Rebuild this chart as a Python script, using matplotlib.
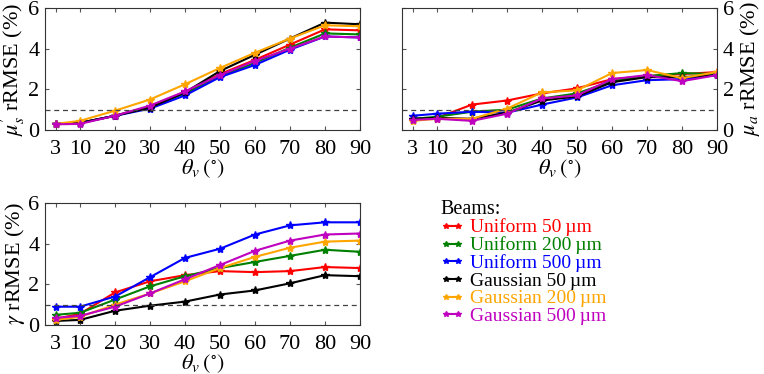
import numpy as np
import matplotlib.pyplot as plt

plt.rcParams["font.family"] = ["Liberation Serif", "DejaVu Serif"]
plt.rcParams["mathtext.fontset"] = "stix"

# viewing angles (deg)
theta = [3, 10, 20, 30, 40, 50, 60, 70, 80, 90]

labels = ["Uniform 50\u2009\u00b5m", "Uniform 200\u2009\u00b5m", "Uniform 500\u2009\u00b5m",
          "Gaussian 50\u2009\u00b5m", "Gaussian 200\u2009\u00b5m", "Gaussian 500\u2009\u00b5m"]
colors = ["red", "green", "blue", "black", "orange", "m"]

# mu_s' rRMSE (%)
mus_u50 = [0.28, 0.35, 0.70, 1.15, 1.85, 2.75, 3.45, 4.20, 4.95, 4.90]
mus_u200 = [0.28, 0.35, 0.70, 1.15, 1.80, 2.65, 3.30, 4.05, 4.75, 4.70]
mus_u500 = [0.30, 0.35, 0.70, 1.05, 1.70, 2.60, 3.20, 3.95, 4.60, 4.55]
mus_g50 = [0.30, 0.35, 0.70, 1.10, 1.85, 2.90, 3.70, 4.50, 5.28, 5.20]
mus_g200 = [0.30, 0.45, 0.95, 1.50, 2.25, 3.05, 3.80, 4.50, 5.15, 5.10]
mus_g500 = [0.28, 0.30, 0.70, 1.20, 1.90, 2.70, 3.40, 4.00, 4.60, 4.55]

# mu_a rRMSE (%)
mua_u50 = [0.50, 0.60, 1.25, 1.45, 1.80, 2.05, 2.50, 2.65, 2.75, 2.85]
mua_u200 = [0.55, 0.65, 0.90, 1.00, 1.55, 1.80, 2.40, 2.65, 2.80, 2.75]
mua_u500 = [0.70, 0.80, 0.90, 0.85, 1.25, 1.60, 2.20, 2.45, 2.50, 2.70]
mua_g50 = [0.55, 0.60, 0.55, 0.85, 1.45, 1.65, 2.35, 2.60, 2.60, 2.70]
mua_g200 = [0.45, 0.55, 0.55, 1.05, 1.85, 1.95, 2.80, 2.95, 2.55, 2.85]
mua_g500 = [0.50, 0.55, 0.45, 0.80, 1.55, 1.70, 2.50, 2.70, 2.40, 2.70]

# gamma rRMSE (%)
gam_u50 = [0.30, 0.55, 1.60, 2.15, 2.45, 2.65, 2.60, 2.65, 2.85, 2.80]
gam_u200 = [0.50, 0.60, 1.25, 1.90, 2.40, 2.80, 3.10, 3.40, 3.70, 3.60]
gam_u500 = [0.90, 0.90, 1.40, 2.35, 3.30, 3.75, 4.45, 4.90, 5.05, 5.05]
gam_g50 = [0.20, 0.25, 0.70, 0.95, 1.15, 1.50, 1.70, 2.05, 2.45, 2.40]
gam_g200 = [0.25, 0.40, 1.00, 1.55, 2.15, 2.80, 3.35, 3.80, 4.10, 4.15]
gam_g500 = [0.35, 0.45, 0.90, 1.55, 2.25, 2.95, 3.65, 4.15, 4.45, 4.50]

mus = [mus_u50, mus_u200, mus_u500, mus_g50, mus_g200, mus_g500]
mua = [mua_u50, mua_u200, mua_u500, mua_g50, mua_g200, mua_g500]
gam = [gam_u50, gam_u200, gam_u500, gam_g50, gam_g200, gam_g500]

fig = plt.figure(figsize=(7.64, 3.74), dpi=100)
W, H = 764, 374
ax1 = fig.add_axes([45 / W, 1 - 130 / H, 315 / W, 122 / H])
ax2 = fig.add_axes([402 / W, 1 - 130 / H, 315 / W, 122 / H])
ax3 = fig.add_axes([45 / W, 1 - 325 / H, 315 / W, 122 / H])


def style(ax, data, ylabel, right=False):
    lines = []
    for d, c, lab in zip(data, colors, labels):
        (ln,) = ax.plot(theta, d, color=c, marker="*", markersize=6, lw=1.5, label=lab)
        lines.append(ln)
    ax.axhline(1, color="#444444", ls=(0, (4, 3)), lw=0.9)
    ax.set_xlim(0, 90)
    ax.set_ylim(0, 6)
    ax.set_xticks(theta)
    ax.set_yticks([0, 2, 4, 6])
    ax.tick_params(direction="in", top=True, right=True, labelsize=16, length=3,
                   color="#555555", pad=4)
    ax.tick_params(axis="x", pad=7)
    ax.set_xlabel(r"$\theta_v\,(^{\circ})$", fontsize=16, labelpad=-1)
    if right:
        ax.yaxis.set_label_position("right")
        ax.tick_params(labelleft=False, labelright=True)
        ax.set_ylabel(ylabel, fontsize=16, labelpad=3)
    else:
        ax.set_ylabel(ylabel, fontsize=16, labelpad=1)
    for s in ax.spines.values():
        s.set_color("#333333")
        s.set_linewidth(0.8)
    return lines


lines = style(ax1, mus, r"$\mu_s'$ rRMSE (%)")
style(ax2, mua, r"$\mu_a$ rRMSE (%)", right=True)
style(ax3, gam, r"$\gamma$ rRMSE (%)")

leg = fig.legend(handles=lines, labels=labels, loc="upper left",
                 bbox_to_anchor=(427 / W, 1 - 186 / H), frameon=False,
                 title="Beams:", fontsize=14, title_fontsize=14.5,
                 numpoints=2, handlelength=1.2, handletextpad=0.3,
                 labelspacing=0.0, borderpad=0.2)
leg._legend_box.align = "left"
for t, c in zip(leg.get_texts(), colors):
    t.set_color(c)
for h in leg.legend_handles:
    h.set_markersize(4)

fig.savefig("out.png", dpi=100)
